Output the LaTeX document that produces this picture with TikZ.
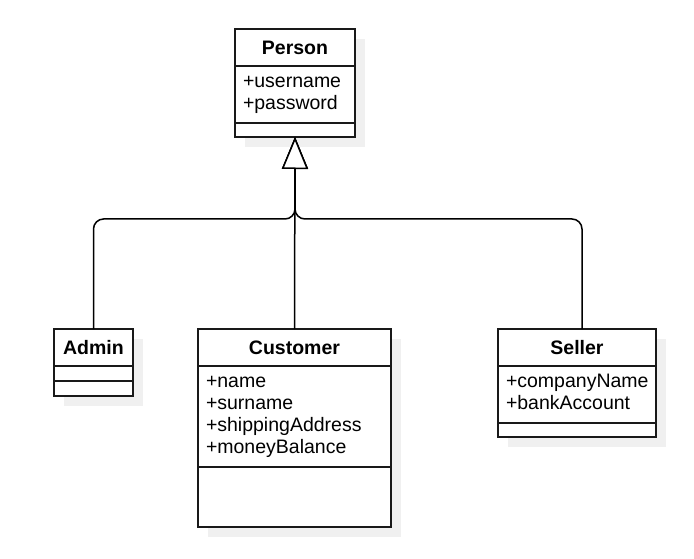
\documentclass[tikz,border=0pt]{standalone}
\usepackage{fontspec}
\setmainfont{Liberation Sans}
\usetikzlibrary{positioning,shadows,arrows.meta}

\tikzset{
  umlbox/.style={rectangle, draw=black!90, line width=1.5pt, fill=white,
    outer sep=0pt, inner sep=0pt,
    drop shadow={shadow xshift=10pt, shadow yshift=-10pt, fill=black!6, opacity=1}},
  classhead/.style={umlbox, minimum width=#1, minimum height=37pt,
    font=\bfseries\fontsize{19.5}{22}\selectfont},
  classattr/.style={umlbox, text width=#1, align=left,
    inner xsep=8pt, inner ysep=6.5pt, font=\fontsize{19.5}{22}\selectfont},
  classop/.style={umlbox, minimum width=#1},
  generalization/.style={draw=black, line width=1.5pt, rounded corners=10pt,
    -{Triangle[width=26pt, length=32pt, fill=white]}}
}

\begin{document}
\begin{tikzpicture}[x=1pt, y=-1pt]
  \useasboundingbox (0,0) rectangle (694,559);

  % Person
  \node [classhead=120pt, anchor=north west] (person) at (235,29) {Person};
  \node [classattr=104pt, below=0pt of person] (person-attr)
    {\strut+username\\\strut+password};
  \node [classop=120pt, minimum height=14pt, below=0pt of person-attr] (person-op) {};

  % Admin
  \node [classhead=79pt, anchor=north west] (admin) at (54,329) {Admin};
  \node [classop=79pt, minimum height=15pt, below=0pt of admin] (admin-attr) {};
  \node [classop=79pt, minimum height=15pt, below=0pt of admin-attr] (admin-op) {};

  % Customer
  \node [classhead=193pt, anchor=north west] (customer) at (198,329) {Customer};
  \node [classattr=177pt, below=0pt of customer] (customer-attr)
    {\strut+name\\\strut+surname\\\strut+shippingAddress\\\strut+moneyBalance};
  \node [classop=193pt, minimum height=60pt, below=0pt of customer-attr] (customer-op) {};

  % Seller
  \node [classhead=158pt, anchor=north west] (seller) at (498,329) {Seller};
  \node [classattr=142pt, below=0pt of seller] (seller-attr)
    {\strut+companyName\\\strut+bankAccount};
  \node [classop=158pt, minimum height=14pt, below=0pt of seller-attr] (seller-op) {};

  % inheritance
  \coordinate (hub) at (295,219);
  \draw [generalization] (admin.north) |- (hub) -- (person-op.south);
  \draw [generalization] ([xshift=5pt]seller.north) |- (hub) -- (person-op.south);
  \draw [generalization] (customer.north) -- (person-op.south);

\end{tikzpicture}
\end{document}
